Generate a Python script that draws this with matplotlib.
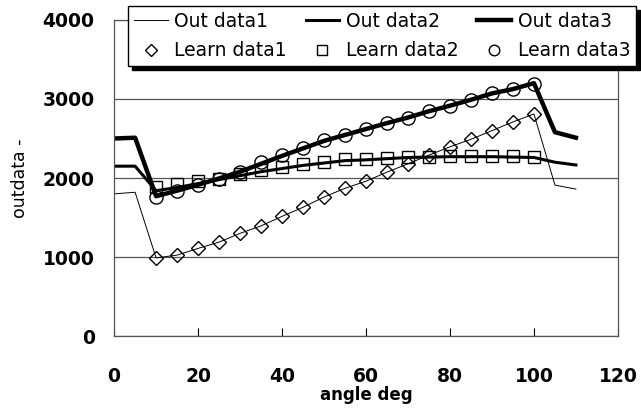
import numpy as np
import matplotlib.pyplot as plt

# angle grid
x_out = [0, 5, 10, 15, 20, 25, 30, 35, 40, 45, 50, 55, 60, 65, 70, 75, 80, 85, 90, 95, 100, 105, 110]
x_learn = [10, 15, 20, 25, 30, 35, 40, 45, 50, 55, 60, 65, 70, 75, 80, 85, 90, 95, 100]

learn1 = [990, 1025, 1110, 1190, 1300, 1395, 1515, 1630, 1760, 1870, 1960, 2075, 2180, 2290, 2395, 2490, 2600, 2710, 2810]
learn2 = [1890, 1920, 1960, 1990, 2050, 2100, 2140, 2180, 2200, 2240, 2240, 2250, 2270, 2270, 2280, 2280, 2280, 2280, 2270]
learn3 = [1760, 1835, 1910, 1990, 2075, 2200, 2290, 2380, 2480, 2545, 2620, 2700, 2760, 2850, 2915, 2990, 3075, 3125, 3190]

out1 = [1800, 1820] + learn1 + [1910, 1860]
out2 = [2150, 2150, 1840, 1880, 1930, 1980, 2030, 2080, 2120, 2160, 2190, 2220, 2230, 2245, 2260, 2265, 2270, 2270, 2270, 2265, 2260, 2200, 2165]
out3 = [2500, 2510, 1770, 1840, 1915, 1995, 2080, 2180, 2280, 2375, 2470, 2545, 2620, 2695, 2765, 2845, 2915, 2990, 3070, 3125, 3200, 2580, 2510]

fig = plt.figure(figsize=(6.41, 4.15), dpi=100)
ax = fig.add_axes([0.178, 0.19, 0.786, 0.762])

l1, = ax.plot(x_out, out1, color='black', lw=0.7, label='Out data1')
l2, = ax.plot(x_out, out2, color='black', lw=2.2, label='Out data2')
l3, = ax.plot(x_out, out3, color='black', lw=3.2, label='Out data3')
m1, = ax.plot(x_learn, learn1, ls='none', marker='D', ms=7.5, mfc='none', mec='black', mew=1.0, label='Learn data1')
m2, = ax.plot(x_learn, learn2, ls='none', marker='s', ms=8.5, mfc='none', mec='black', mew=1.0, label='Learn data2')
m3, = ax.plot(x_learn, learn3, ls='none', marker='o', ms=9.5, mfc='none', mec='black', mew=1.0, label='Learn data3')

ax.set_xlim(0, 120)
ax.set_ylim(0, 4000)
ax.set_xticks(range(0, 121, 20))
ax.set_yticks(range(0, 4001, 1000))
ax.grid(axis='y', color='#555555', lw=0.9)
ax.set_axisbelow(True)
for s in ax.spines.values():
    s.set_color('#555555')
    s.set_linewidth(0.9)
ax.tick_params(axis='x', direction='in', length=6, pad=22)
ax.tick_params(axis='y', direction='in', length=0, pad=14)
for t in ax.get_xticklabels() + ax.get_yticklabels():
    t.set_fontsize(13.5)
    t.set_fontweight('bold')
ax.set_xlabel('angle deg', fontsize=12, fontweight='bold', labelpad=0)
ax.set_ylabel('outdata -', fontsize=12.5, labelpad=10)

leg = fig.legend([l1, m1, l2, m2, l3, m3],
                 ['Out data1', 'Learn data1', 'Out data2', 'Learn data2', 'Out data3', 'Learn data3'],
                 ncol=3, loc='upper left', bbox_to_anchor=(0.2, 0.985),
                 fontsize=13.5, frameon=True, fancybox=False,
                 shadow={'ox': 3, 'oy': -3, 'color': 'black', 'alpha': 1},
                 handlelength=1.8, handletextpad=0.35, columnspacing=1.0,
                 markerscale=0.8,
                 borderpad=0.3, labelspacing=0.55, borderaxespad=0)
leg.get_frame().set_edgecolor('black')
leg.get_frame().set_linewidth(1.0)

fig.savefig('out.png', dpi=100)
